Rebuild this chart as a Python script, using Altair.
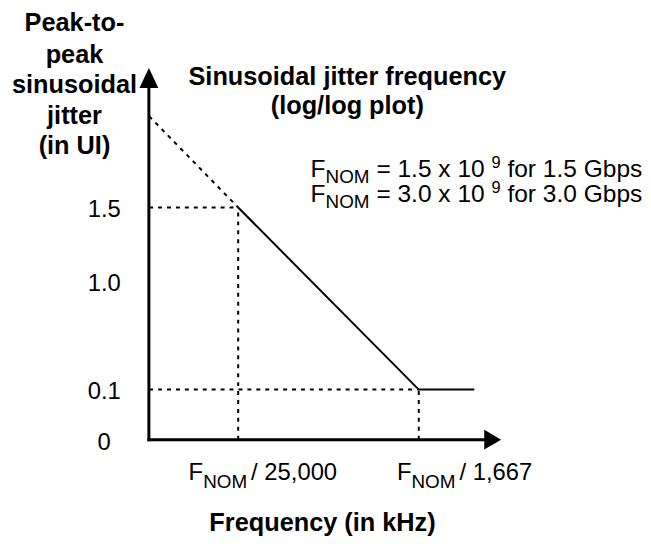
import altair as alt
import pandas as pd

# ---------------- data ----------------
knee_divisors = [25000, 1667]          # knee frequencies = F_NOM / divisor
knee_labels = ["25,000", "1,667"]
knee_jitter = [1.5, 0.1]               # peak-to-peak jitter at the knees (UI)
flat_end_divisor = 725                 # end of the flat 0.1 UI segment (F_NOM / 725)
axis_origin_divisor = 95000            # frequency where the y axis sits (F_NOM / 95,000)
ytick_values = [1.5, 1.0, 0.1, 0]
ytick_labels = ["1.5", "1.0", "0.1", "0"]
ylabel_lines = ["Peak-to-", "peak", "sinusoidal", "jitter", "(in UI)"]
title_lines = ["Sinusoidal jitter frequency", "(log/log plot)"]
fnom_values = ["1.5", "3.0"]
fnom_rates = ["1.5 Gbps", "3.0 Gbps"]
xlabel = "Frequency (in kHz)"

FONT = "Liberation Sans, Arial, Helvetica, sans-serif"

# Arial / Liberation Sans advance widths (1/1000 em)
W = {' ': 278, '(': 333, ')': 333, ',': 278, '-': 333, '.': 278, '/': 278, '=': 584,
     'F': 611, 'G': 778, 'M': 833, 'N': 722, 'O': 778, 'b': 556, 'f': 278, 'o': 556,
     'p': 556, 'r': 333, 's': 500, 'x': 500}
for d in "0123456789":
    W[d] = 556


def tw(s, size):
    return sum(W.get(c, 556) for c in s) * size / 1000.0


r1 = 1.0 / knee_divisors[0]
r2 = 1.0 / knee_divisors[1]
r0 = 1.0 / axis_origin_divisor
r_end = 1.0 / flat_end_divisor
j0 = knee_jitter[0] * r1 / r0          # 1/f law extended back to the y axis

xs = alt.Scale(type="log", domain=[r1, r2], range=[232, 414], nice=False)
ys = alt.Scale(type="linear", domain=[0, 0.1, 1.0, 1.5, j0],
               range=[433, 382.5, 273.6, 199, 107], nice=False, zero=False)


def X(f="r"):
    return alt.X(f"{f}:Q", scale=xs, axis=None)


def Y(f="j"):
    return alt.Y(f"{f}:Q", scale=ys, axis=None)


dummy = pd.DataFrame({"a": [0]})


def label(text, x, y, size, bold=False, align="left"):
    return alt.Chart(dummy).mark_text(
        align=align, baseline="alphabetic", fontSize=size, font=FONT,
        fontWeight="bold" if bold else "normal", color="black"
    ).encode(x=alt.value(x), y=alt.value(y), text=alt.value(text))


layers = []

# dashed guide segments
seg = pd.DataFrame({
    "r":  [r0, r1, r0, r2, r0],
    "rr": [r1, r1, r2, r2, r1],
    "j":  [knee_jitter[0], 0, knee_jitter[1], 0, j0],
    "jj": [knee_jitter[0], knee_jitter[0], knee_jitter[1], knee_jitter[1], knee_jitter[0]],
})
layers.append(alt.Chart(seg).mark_rule(color="black", strokeWidth=2, strokeDash=[4, 5]).encode(
    x=X(), x2=alt.X2("rr:Q"), y=Y(), y2=alt.Y2("jj:Q")))

# envelope
env = pd.DataFrame({"r": [r1, r2, r_end], "j": [knee_jitter[0], knee_jitter[1], knee_jitter[1]]})
layers.append(alt.Chart(env).mark_line(color="black", strokeWidth=2).encode(x=X(), y=Y()))

# axes
layers.append(alt.Chart(dummy).mark_rule(color="black", strokeWidth=3).encode(
    x=alt.value(142), y=alt.value(434.5), y2=alt.value(72)))
layers.append(alt.Chart(dummy).mark_rule(color="black", strokeWidth=3).encode(
    x=alt.value(140.5), x2=alt.value(484), y=alt.value(433)))
layers.append(alt.Chart(dummy).mark_point(shape="M0,-1L-0.95,1L0.95,1Z", filled=True, size=400,
                                           color="black", opacity=1, strokeWidth=0).encode(
    x=alt.value(142), y=alt.value(68.5)))
layers.append(alt.Chart(dummy).mark_point(shape="M1,0L-0.7,-1L-0.7,1Z", filled=True, size=400,
                                           color="black", opacity=1, strokeWidth=0).encode(
    x=alt.value(487), y=alt.value(433)))

# y tick labels
ticks = pd.DataFrame({"j": ytick_values, "label": ytick_labels})
layers.append(alt.Chart(ticks).mark_text(align="center", baseline="alphabetic", dy=10,
                                         fontSize=24, font=FONT, color="black").encode(
    x=alt.value(97), y=Y(), text="label:N"))

# x tick labels  F_NOM / divisor
S, T = 24, 19
for r, lab, dx0 in zip([r1, r2], knee_labels, [-50, -22]):
    d = pd.DataFrame({"r": [r]})
    pos = dx0
    parts = [("F", S, 0), ("NOM", T, 8)]
    for txt, size, dy in parts:
        layers.append(alt.Chart(d).mark_text(align="left", baseline="alphabetic", dx=pos, fontSize=size,
                                             font=FONT, color="black").encode(
            x=X(), y=alt.value(474 + dy), text=alt.value(txt)))
        pos += tw(txt, size)
    pos += 4
    layers.append(alt.Chart(d).mark_text(align="left", baseline="alphabetic", dx=pos, fontSize=S,
                                         font=FONT, color="black").encode(
        x=X(), y=alt.value(474), text=alt.value("/")))
    pos += tw("/", S) + tw(" ", S)
    layers.append(alt.Chart(d).mark_text(align="left", baseline="alphabetic", dx=pos, fontSize=S,
                                         font=FONT, color="black").encode(
        x=X(), y=alt.value(474), text=alt.value(lab)))

# y axis title
for line, yb in zip(ylabel_lines, [21, 53, 84, 115, 145]):
    layers.append(label(line, 67, yb, 25.5, bold=True, align="center"))

# chart title
for line, yb in zip(title_lines, [76, 104.5]):
    layers.append(label(line, 342, yb, 25.5, bold=True, align="center"))

# x axis title
layers.append(label(xlabel, 317, 525, 25.5, bold=True, align="center"))

# F_NOM definitions
AS, AT, AU = 24.7, 19, 16.5
for v, rate, yb in zip(fnom_values, fnom_rates, [168, 193]):
    x = 305
    layers.append(label("F", x, yb, AS)); x += tw("F", AS)
    layers.append(label("NOM", x, yb + 6.5, AT)); x += tw("NOM", AT) + tw(" ", AS)
    t1 = f"= {v} x 10"
    layers.append(label(t1, x, yb, AS)); x += tw(t1, AS) + tw(" ", AS)
    layers.append(label("9", x, yb - 9, AU)); x += tw("9", AU) + tw(" ", AS)
    layers.append(label(f"for {rate}", x, yb, AS))

chart = alt.layer(*layers).properties(
    width=640, height=528, padding=0, background="white",
    autosize=alt.AutoSizeParams(type="none")
).configure_view(strokeWidth=0, stroke=None)

chart.save("out.html", embed_options={"renderer": "svg", "actions": False})
